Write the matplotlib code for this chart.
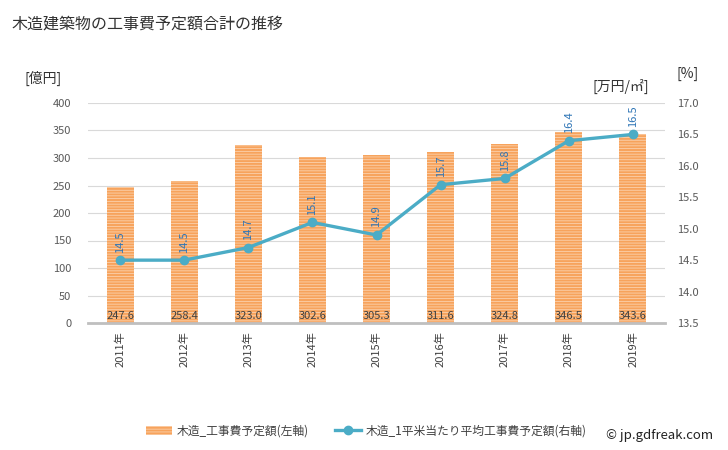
import matplotlib.pyplot as plt
import numpy as np

plt.rcParams['font.family'] = ['Noto Sans CJK JP', 'DejaVu Sans']

# data
years = ["2011年", "2012年", "2013年", "2014年", "2015年", "2016年", "2017年", "2018年", "2019年"]
cost_total = [247.6, 258.4, 323.0, 302.6, 305.3, 311.6, 324.8, 346.5, 343.6]
cost_per_m2 = [14.5, 14.5, 14.7, 15.1, 14.9, 15.7, 15.8, 16.4, 16.5]

bar_color = "#f7a35c"
line_color = "#4bacc6"

fig = plt.figure(figsize=(7.28, 4.5), dpi=100)
ax = fig.add_axes([88 / 728, 1 - 323 / 450, (665 - 88) / 728, 220 / 450])
ax2 = ax.twinx()

x = np.arange(len(years))
plt.rcParams['hatch.color'] = "#fbd2ae"
plt.rcParams['hatch.linewidth'] = 0.6
ax.bar(x, cost_total, width=0.42, color=bar_color, hatch="------", edgecolor="#fbd2ae",
       linewidth=0, zorder=2, label="木造_工事費予定額(左軸)")
for xi, v in zip(x, cost_total):
    ax.text(xi, 12, f"{v:.1f}", ha="center", va="center", fontsize=8, color="#404040", zorder=3)

ax.set_ylim(0, 400)
ax.set_yticks(range(0, 401, 50))
ax.set_xlim(-0.5, len(years) - 0.5)
ax.set_xticks(x)
ax.set_xticklabels(years, rotation=90, fontsize=8, color="#404040")
ax.grid(axis="y", color="#d9d9d9", linewidth=0.8, zorder=0)
ax.set_axisbelow(True)
for s in ["top", "right", "left"]:
    ax.spines[s].set_visible(False)
ax.spines["bottom"].set_color("#bfbfbf")
ax.spines["bottom"].set_linewidth(2)
ax.tick_params(axis="y", length=0, labelsize=8, labelcolor="#595959", pad=12)
ax.tick_params(axis="x", length=0, pad=6)

ax2.plot(x, cost_per_m2, color=line_color, linewidth=2.4, marker="o", markersize=6,
         zorder=4, label="木造_1平米当たり平均工事費予定額(右軸)")
for xi, v in zip(x, cost_per_m2):
    ax2.text(xi, v + 0.12, f"{v:.1f}", ha="center", va="bottom", rotation=90, fontsize=8,
             color="#2e75b6")
ax2.set_ylim(13.5, 17.0)
ax2.set_yticks(np.arange(13.5, 17.01, 0.5))
ax2.set_yticklabels([f"{t:.1f}" for t in np.arange(13.5, 17.01, 0.5)])
ax2.tick_params(axis="y", length=0, labelsize=8, labelcolor="#595959", pad=9)
for s in ["top", "right", "left", "bottom"]:
    ax2.spines[s].set_visible(False)
ax.set_zorder(ax2.get_zorder() - 1)
ax.patch.set_visible(False)

fig.text(12 / 728, 1 - 24 / 450, "木造建築物の工事費予定額合計の推移", fontsize=11.5, va="center", color="#333333")
fig.text(24 / 728, 1 - 78 / 450, "[億円]", fontsize=10, va="center", color="#333333")
fig.text(593 / 728, 1 - 86 / 450, "[万円/㎡]", fontsize=10, va="center", color="#333333")
fig.text(677 / 728, 1 - 74 / 450, "[%]", fontsize=10, va="center", color="#333333")

h1, l1 = ax.get_legend_handles_labels()
h2, l2 = ax2.get_legend_handles_labels()
fig.legend(h1 + h2, l1 + l2, loc="center", bbox_to_anchor=(366 / 728, 1 - 431 / 450), ncol=2,
           frameon=False, fontsize=8.5, handlelength=2.2, handletextpad=0.4, columnspacing=2.2,
           labelcolor="#404040")
fig.text(713 / 728, 1 - 435 / 450, "© jp.gdfreak.com", fontsize=9.5, ha="right", va="center", color="#222222")

fig.savefig("out.png", dpi=100)
